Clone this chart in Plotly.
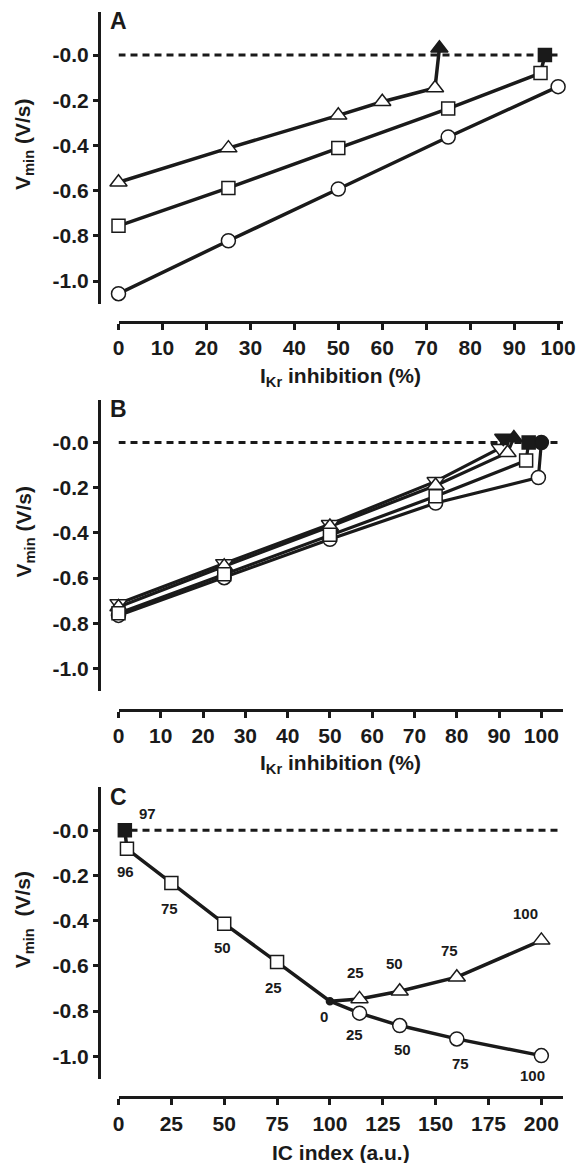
import plotly.graph_objects as go

W, H = 577, 1163
INK = "#1a1a1a"
FONT = "Liberation Sans"

# ---------------- data ----------------
# Panel A: Vmin against IKr inhibition for three conditions
a_tri_x = [0, 25, 50, 60, 72]
a_tri_y = [-0.563, -0.412, -0.267, -0.207, -0.146]
a_tri_fail_x = [73]
a_tri_fail_y = [0.03]
a_sq_x = [0, 25, 50, 75, 96]
a_sq_y = [-0.756, -0.588, -0.412, -0.237, -0.080]
a_sq_fail_x = [97]
a_sq_fail_y = [0.0]
a_circ_x = [0, 25, 50, 75, 100]
a_circ_y = [-1.056, -0.822, -0.593, -0.363, -0.140]

# Panel B: four nearly overlapping conditions
b_circ_x = [0, 25, 50, 75, 99.3]
b_circ_y = [-0.765, -0.598, -0.428, -0.268, -0.155]
b_circ_fail_x = [100]
b_circ_fail_y = [0.0]
b_sq_x = [0, 25, 50, 75, 96.4]
b_sq_y = [-0.756, -0.583, -0.408, -0.238, -0.080]
b_sq_fail_x = [97]
b_sq_fail_y = [0.0]
b_up_x = [0, 25, 50, 75, 92]
b_up_y = [-0.728, -0.548, -0.372, -0.190, -0.045]
b_up_fail_x = [93.5]
b_up_fail_y = [0.02]
b_dn_x = [0, 25, 50, 75, 90.2]
b_dn_y = [-0.712, -0.535, -0.362, -0.172, -0.025]
b_dn_fail_x = [91]
b_dn_fail_y = [0.02]

# Panel C: Vmin against IC index, labelled with % IKr inhibition
c_fail_x = [3]
c_fail_y = [0.0]
c_fail_lbl = ["97"]
c_sq_x = [4, 25, 50, 75]
c_sq_y = [-0.082, -0.233, -0.413, -0.583]
c_sq_lbl = ["96", "75", "50", "25"]
c_ctrl_x = [100]
c_ctrl_y = [-0.756]
c_ctrl_lbl = ["0"]
c_tri_x = [114, 133, 160, 200]
c_tri_y = [-0.746, -0.712, -0.650, -0.487]
c_tri_lbl = ["25", "50", "75", "100"]
c_circ_x = [114, 133, 160, 200]
c_circ_y = [-0.809, -0.864, -0.923, -0.997]
c_circ_lbl = ["25", "50", "75", "100"]

y_tickvals = [0, -0.2, -0.4, -0.6, -0.8, -1.0]
y_ticktext = ["-0.0", "-0.2", "-0.4", "-0.6", "-0.8", "-1.0"]
ab_xticks = [0, 10, 20, 30, 40, 50, 60, 70, 80, 90, 100]
c_xticks = [0, 25, 50, 75, 100, 125, 150, 175, 200]

# ---------------- layout geometry (pixels) ----------------
Y_RANGE = [-1.1, 0.19]
PX_PER_UNIT = 226
X_LEFT, X_RIGHT = 118.5, 562.5
YAXIS_PX = 99
XAXIS_DROP = 267

panels = [
    dict(letter="A", y0=55.0, xrange=[0, 101], xticks=ab_xticks,
         xtitle="I<sub>Kr</sub> inhibition (%)", ytitle="V<sub>min</sub> (V/s)"),
    dict(letter="B", y0=442.5, xrange=[0, 105], xticks=ab_xticks,
         xtitle="I<sub>Kr</sub> inhibition (%)", ytitle="V<sub>min</sub> (V/s)"),
    dict(letter="C", y0=830.3, xrange=[0, 210], xticks=c_xticks,
         xtitle="IC index (a.u.)", ytitle="V<sub>min</sub>  (V/s)"),
]


def fx(p):
    return p / W


def fy(p):
    return 1 - p / H


def bold(size):
    return dict(family=FONT, size=size, color=INK, weight="bold")


fig = go.Figure()
layout = {}
annotations = []
shapes = []

for i, p in enumerate(panels):
    sfx = "" if i == 0 else str(i + 1)
    y0 = p["y0"]
    top = y0 - Y_RANGE[1] * PX_PER_UNIT
    bottom = y0 - Y_RANGE[0] * PX_PER_UNIT
    layout["xaxis" + sfx] = dict(
        domain=[fx(X_LEFT), fx(X_RIGHT)], range=p["xrange"], anchor="free",
        position=fy(y0 + XAXIS_DROP), showline=True, linewidth=3, linecolor=INK,
        ticks="outside", ticklen=6, tickwidth=2.5, tickcolor=INK,
        tickvals=p["xticks"], tickfont=bold(21),
        showgrid=False, zeroline=False, automargin=False, fixedrange=True,
    )
    layout["yaxis" + sfx] = dict(
        domain=[fy(bottom), fy(top)], range=Y_RANGE, anchor="free",
        position=fx(YAXIS_PX), showline=True, linewidth=3, linecolor=INK,
        ticks="outside", ticklen=5, tickwidth=2.5, tickcolor=INK,
        tickvals=y_tickvals, ticktext=y_ticktext, tickfont=bold(21),
        showgrid=False, zeroline=False, automargin=False, fixedrange=True,
    )
    # dashed zero line
    shapes.append(dict(type="line", xref="x" + sfx, yref="y" + sfx,
                       x0=p["xrange"][0], x1=p["xrange"][1], y0=0, y1=0,
                       line=dict(color=INK, width=3, dash="7px,5px"), layer="below"))
    # panel letter
    annotations.append(dict(text=p["letter"], xref="paper", yref="paper",
                            x=fx(118.5), y=fy(y0 - 33.5), showarrow=False,
                            xanchor="center", yanchor="middle", font=bold(23)))
    # axis titles
    annotations.append(dict(text=p["ytitle"], xref="paper", yref="paper",
                            x=fx(24), y=fy(y0 + 90), textangle=-90, showarrow=False,
                            xanchor="center", yanchor="middle", font=bold(21)))
    annotations.append(dict(text=p["xtitle"], xref="paper", yref="paper",
                            x=fx((X_LEFT + X_RIGHT) / 2), y=fy(y0 + XAXIS_DROP + 55),
                            showarrow=False, xanchor="center", yanchor="middle",
                            font=bold(21)))


def line(x, y, ax, width=3.5):
    fig.add_trace(go.Scatter(x=x, y=y, mode="lines", xaxis="x" + ax, yaxis="y" + ax,
                             line=dict(color=INK, width=width), hoverinfo="skip",
                             showlegend=False, cliponaxis=False))


def marks(x, y, ax, symbol, filled=False, size=13):
    fig.add_trace(go.Scatter(
        x=x, y=y, mode="markers", xaxis="x" + ax, yaxis="y" + ax,
        marker=dict(symbol=symbol, size=size, color=INK if filled else "white",
                    line=dict(color=INK, width=1.5)),
        showlegend=False, cliponaxis=False))


# ---- Panel A ----
line(a_circ_x, a_circ_y, "")
line(a_sq_x + a_sq_fail_x, a_sq_y + a_sq_fail_y, "")
line(a_tri_x + a_tri_fail_x, a_tri_y + a_tri_fail_y, "")
marks(a_circ_x, a_circ_y, "", "circle", size=14)
marks(a_sq_x, a_sq_y, "", "square")
marks(a_sq_fail_x, a_sq_fail_y, "", "square", filled=True)
marks(a_tri_x, a_tri_y, "", "triangle-up", size=15)
marks(a_tri_fail_x, a_tri_fail_y, "", "triangle-up", filled=True, size=15)

# ---- Panel B ----
for xs, ys, fxs, fys in [
    (b_circ_x, b_circ_y, b_circ_fail_x, b_circ_fail_y),
    (b_sq_x, b_sq_y, b_sq_fail_x, b_sq_fail_y),
    (b_up_x, b_up_y, b_up_fail_x, b_up_fail_y),
    (b_dn_x, b_dn_y, b_dn_fail_x, b_dn_fail_y),
]:
    line(xs + fxs, ys + fys, "2", width=3.2)
marks(b_circ_x, b_circ_y, "2", "circle", size=14)
marks(b_circ_fail_x, b_circ_fail_y, "2", "circle", filled=True, size=14)
marks(b_dn_x, b_dn_y, "2", "triangle-down", size=15)
marks(b_dn_fail_x, b_dn_fail_y, "2", "triangle-down", filled=True, size=15)
marks(b_up_x, b_up_y, "2", "triangle-up", size=15)
marks(b_up_fail_x, b_up_fail_y, "2", "triangle-up", filled=True, size=15)
marks(b_sq_x, b_sq_y, "2", "square")
marks(b_sq_fail_x, b_sq_fail_y, "2", "square", filled=True)

# ---- Panel C ----
line(c_fail_x + c_sq_x + c_ctrl_x + c_tri_x, c_fail_y + c_sq_y + c_ctrl_y + c_tri_y, "3")
line(c_ctrl_x + c_circ_x, c_ctrl_y + c_circ_y, "3")
marks(c_fail_x, c_fail_y, "3", "square", filled=True)
marks(c_sq_x, c_sq_y, "3", "square")
marks(c_ctrl_x, c_ctrl_y, "3", "circle", filled=True, size=7)
marks(c_tri_x, c_tri_y, "3", "triangle-up", size=15)
marks(c_circ_x, c_circ_y, "3", "circle", size=14)

# point labels (text offsets in pixels: right, down)
label_groups = [
    (c_fail_x, c_fail_y, c_fail_lbl, [(23, -17)]),
    (c_sq_x, c_sq_y, c_sq_lbl, [(-1, 23), (-2, 26), (-2, 24), (-4, 25)]),
    (c_ctrl_x, c_ctrl_y, c_ctrl_lbl, [(-6, 15)]),
    (c_tri_x, c_tri_y, c_tri_lbl, [(-4, -26), (-5, -28), (-7, -27), (-16, -27)]),
    (c_circ_x, c_circ_y, c_circ_lbl, [(-5, 21), (3, 24), (4, 25), (-9, 20)]),
]
for xs, ys, lbls, offs in label_groups:
    for x, y, t, (dx, dy) in zip(xs, ys, lbls, offs):
        annotations.append(dict(text=t, x=x, y=y, xref="x3", yref="y3",
                                xshift=dx, yshift=-dy, showarrow=False,
                                xanchor="center", yanchor="middle", font=bold(15)))

fig.update_layout(
    width=W, height=H, margin=dict(l=0, r=0, t=0, b=0),
    paper_bgcolor="white", plot_bgcolor="white",
    showlegend=False, annotations=annotations, shapes=shapes,
    **layout,
)

fig.write_html("out.html", config={"displayModeBar": False})
